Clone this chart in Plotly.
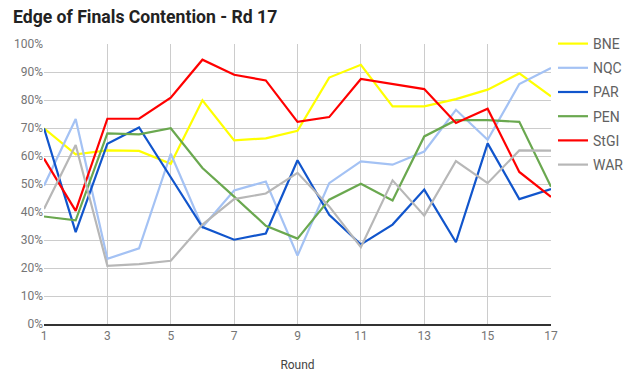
import plotly.graph_objects as go

rounds = list(range(1, 18))
teams = ["BNE", "NQC", "PAR", "PEN", "StGI", "WAR"]
colors = ["#ffff00", "#a4c2f4", "#1155cc", "#6aa84f", "#ff0000", "#b7b7b7"]

bne = [69.9, 60.6, 62.0, 61.8, 57.2, 79.9, 65.6, 66.3, 69.0, 88.0, 92.6, 77.7, 77.7, 80.3, 83.7, 89.5, 81.3]
nqc = [49.4, 73.2, 23.3, 27.0, 60.8, 34.6, 47.7, 50.9, 24.4, 50.3, 58.1, 56.9, 61.6, 76.5, 65.8, 85.7, 91.4]
par = [69.9, 32.8, 64.4, 70.2, 52.4, 34.6, 30.1, 32.3, 58.5, 39.0, 28.4, 35.5, 48.0, 29.2, 64.5, 44.6, 48.2]
pen = [38.4, 37.0, 68.1, 67.7, 69.9, 55.7, 45.5, 35.1, 30.5, 44.4, 50.1, 44.1, 67.0, 72.8, 72.8, 72.2, 49.0]
stgi = [59.1, 40.4, 73.3, 73.3, 80.8, 94.4, 89.0, 87.0, 72.2, 73.9, 87.5, 85.7, 83.9, 71.8, 76.9, 54.3, 45.4]
war = [41.1, 63.9, 20.8, 21.4, 22.6, 35.5, 44.6, 46.6, 54.0, 42.0, 27.4, 51.3, 38.7, 58.2, 50.3, 62.0, 61.9]

series = [bne, nqc, par, pen, stgi, war]

fig = go.Figure()
for name, vals, col in zip(teams, series, colors):
    fig.add_trace(go.Scatter(
        x=rounds, y=[v / 100 for v in vals], mode="lines", name=name,
        legendgroup=name,
        line=dict(color=col, width=2.2),
    ))

fig.update_layout(
    width=634, height=381,
    margin=dict(l=44, r=83, t=44, b=57, autoexpand=False),
    paper_bgcolor="white", plot_bgcolor="white",
    font=dict(family="Roboto, Arial, sans-serif", size=12, color="#757575"),
    title=dict(
        text="<b>Edge of Finals Contention - Rd 17</b>",
        font=dict(family="Roboto, Arial, sans-serif", size=17.6, color="#222222"),
        x=13 / 634, xref="container", xanchor="left",
        y=1 - 16.5 / 381, yref="container", yanchor="middle",
    ),
    showlegend=True,
    legend=dict(
        xref="container", yref="container",
        x=553 / 634, y=1 - 28 / 381, xanchor="left", yanchor="top",
        font=dict(size=14, color="#616161"),
        tracegroupgap=3,
        bgcolor="rgba(0,0,0,0)",
    ),
)

fig.update_xaxes(
    range=[1, 17], tickvals=list(range(1, 18, 2)),
    showgrid=True, gridcolor="#cccccc", gridwidth=1,
    showline=True, linecolor="#333333", linewidth=1.5,
    zeroline=False, ticks="",
    tickfont=dict(size=12, color="#757575"),
    title=dict(text="Round", font=dict(size=12, color="#444444"), standoff=18),
)
fig.update_yaxes(
    range=[0, 1], dtick=0.1, tickformat=".0%",
    showgrid=True, gridcolor="#cccccc", gridwidth=1,
    zeroline=False, showline=False, ticks="",
    tickfont=dict(size=12, color="#757575"),
)

fig.write_html("out.html", config={"displayModeBar": False},
               post_script="document.body.style.margin='0';")
